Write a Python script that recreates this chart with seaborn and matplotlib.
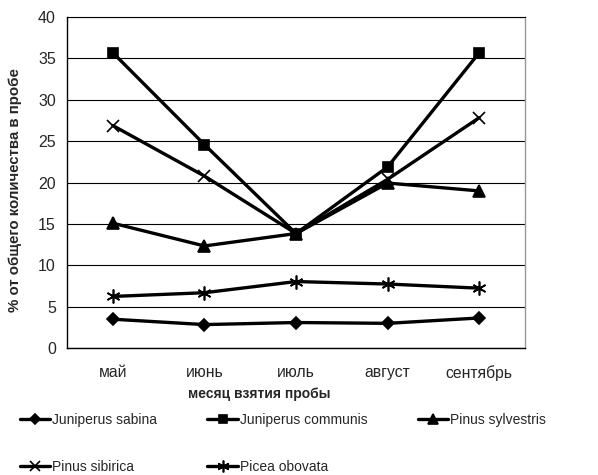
import numpy as np
import pandas as pd
import matplotlib
matplotlib.use("Agg")
import matplotlib.pyplot as plt
import seaborn as sns

# -------------------------------
# data
# -------------------------------
months = ["май", "июнь", "июль", "август", "сентябрь"]

juniperus_sabina = [3.5, 2.85, 3.1, 3.0, 3.65]
juniperus_communis = [35.7, 24.6, 13.85, 21.9, 35.7]
pinus_sylvestris = [15.1, 12.35, 13.85, 19.95, 19.0]
pinus_sibirica = [26.9, 20.8, 13.85, 20.4, 27.85]
picea_obovata = [6.25, 6.7, 8.05, 7.75, 7.25]

series_names = ["Juniperus sabina", "Juniperus communis", "Pinus sylvestris",
                "Pinus sibirica", "Picea obovata"]
series_values = [juniperus_sabina, juniperus_communis, pinus_sylvestris,
                 pinus_sibirica, picea_obovata]
series_markers = ["D", "s", "^", "x", (6, 2, 0)]
marker_sizes = [6, 7, 8, 9, 10]

# -------------------------------
# style
# -------------------------------
sns.set_style("white")
plt.rcParams['font.family'] = ['Liberation Sans', 'DejaVu Sans']

fig = plt.figure(figsize=(5.98, 4.75), dpi=100)
ax = fig.add_axes([0.112, 0.267, 0.766, 0.697])

for name, vals, mk, ms in zip(series_names, series_values, series_markers, marker_sizes):
    df = pd.DataFrame({"month": months, "value": vals})
    sns.lineplot(data=df, x="month", y="value", ax=ax, color="black",
                 linewidth=2.4, marker=mk, markersize=ms,
                 markeredgecolor="black", markerfacecolor="black",
                 markeredgewidth=1.2, sort=False, label=name)

# -------------------------------
# axes
# -------------------------------
ax.set_ylim(0, 40)
ax.set_yticks(np.arange(0, 41, 5))
ax.set_xlim(-0.5, len(months) - 0.5)
ax.set_xticks(range(len(months)))
ax.set_xticklabels(months)
ax.set_xticks(np.arange(-0.5, len(months), 1.0), minor=True)
ax.tick_params(axis="x", which="major", length=0, pad=12, labelsize=11.3)
ax.tick_params(axis="x", which="minor", length=5, width=1, color="black", direction="out")
ax.tick_params(axis="y", length=5, width=1, color="black", direction="out", labelsize=11.5, pad=3)
ax.yaxis.grid(True, color="black", linewidth=0.8)
ax.set_axisbelow(True)

for side in ["left", "bottom"]:
    ax.spines[side].set_color("black")
    ax.spines[side].set_linewidth(1)
ax.spines["top"].set_color("black")
ax.spines["top"].set_linewidth(0.8)
ax.spines["right"].set_color("#999999")
ax.spines["right"].set_linewidth(1)

ax.set_xlabel("месяц взятия пробы", fontsize=10, fontweight="bold")
ax.set_ylabel("% от общего количества в пробе", fontsize=10.8, fontweight="bold")
ax.xaxis.set_label_coords(0.42, -0.118)
ax.yaxis.set_label_coords(-0.098, 0.477)

# -------------------------------
# legend (row-wise order)
# -------------------------------
h, l = ax.get_legend_handles_labels()
ax.get_legend().remove()
order = [0, 3, 1, 4, 2]
fig.legend([h[i] for i in order], [l[i] for i in order],
           loc="upper left", bbox_to_anchor=(0.033, 0.131), ncol=3,
           frameon=False, fontsize=10, handlelength=2.2, handletextpad=0.15,
           columnspacing=3.6, labelspacing=2.4, borderpad=0, borderaxespad=0,
           markerscale=0.85)

fig.savefig("out.png", dpi=100)
